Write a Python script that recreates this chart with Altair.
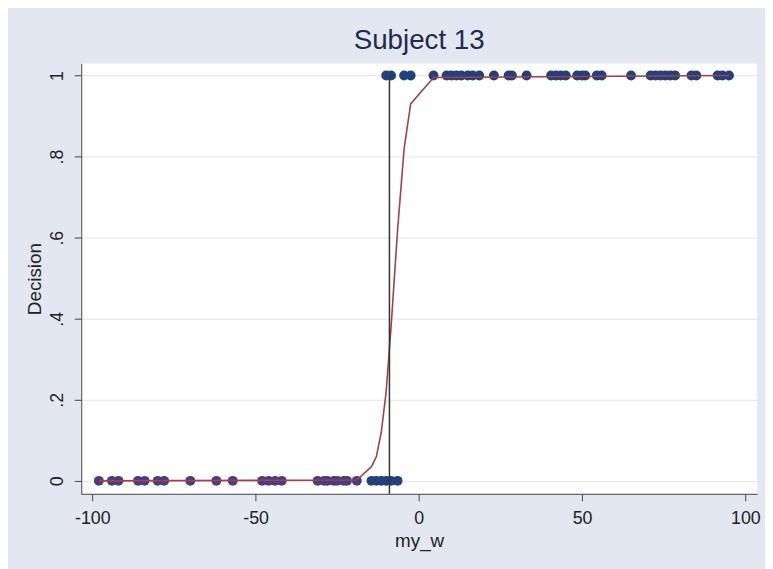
import altair as alt
import pandas as pd

# Observed decisions (my_w values)
zero_x_covered = [-98, -94, -92, -86, -84, -80, -78, -70, -62, -57, -48, -46, -44, -42,
                  -31, -29, -28, -26, -25, -23, -22, -19]
zero_x_open = [-14.5, -13, -11.5, -10, -8.5, -6.5]
one_x = [-10, -8.5, -4.5, -2.5, 4.5, 8.5, 10, 11.5, 13, 15, 16.5, 18.5, 23, 27.5, 28.5, 33,
         40.5, 42, 43.5, 45, 48.5, 50, 51, 54.5, 56, 65, 71, 72.5, 74, 75.5, 77, 78.5,
         83.5, 85, 91.5, 93, 95]

# Fitted probability line (vertices)
fit_x = [-98, -19, -14.5, -13, -11.5, -10, -8.5, -6.5, -4.5, -2.5, 4.5, 95]
fit_p = [0.0, 0.002, 0.035, 0.06, 0.12, 0.22, 0.38, 0.62, 0.82, 0.93, 0.995, 1.0]

vline_x = [-9]

x_ticks = [-100, -50, 0, 50, 100]
y_ticks = [0, 0.2, 0.4, 0.6, 0.8, 1]

pts = pd.DataFrame(
    {"my_w": zero_x_covered + zero_x_open + one_x,
     "Decision": [0] * (len(zero_x_covered) + len(zero_x_open)) + [1] * len(one_x),
     "grp": ["covered"] * len(zero_x_covered) + ["open"] * (len(zero_x_open) + len(one_x))}
)
fit = pd.DataFrame({"my_w": fit_x, "p": fit_p})
vl = pd.DataFrame({"my_w": vline_x, "top": [1.0]})

xscale = alt.Scale(domain=[-103.4, 103.6], nice=False, zero=False)
yscale = alt.Scale(domain=[-0.032, 1.03], nice=False, zero=False)

W, H = 683, 435

xaxis = alt.Axis(values=x_ticks, title="my_w", grid=False, labelFontSize=18,
                 labelExpr="datum.value + ''",
                 titleFontSize=19, labelColor="#222222", titleColor="#222222",
                 titleFontWeight="normal", tickSize=7, labelPadding=9, titlePadding=4,
                 domainColor="#444444", tickColor="#444444", labelFont="Liberation Sans",
                 titleFont="Liberation Sans")
yaxis = alt.Axis(values=y_ticks, title="Decision", grid=True, gridColor="#e4e4e4",
                 labelExpr="datum.value == 0 ? '0' : datum.value == 1 ? '1' : replace(format(datum.value, '.1f'), '0.', '.')",
                 labelAngle=270, labelFontSize=18, titleFontSize=19, labelColor="#222222",
                 titleColor="#222222", titleFontWeight="normal", tickSize=7, labelPadding=8,
                 titlePadding=4, domainColor="#444444", tickColor="#444444",
                 labelFont="Liberation Sans", titleFont="Liberation Sans")

points = alt.Chart(pts).mark_circle(size=100, opacity=1).encode(
    x=alt.X("my_w:Q", scale=xscale, axis=xaxis),
    y=alt.Y("Decision:Q", scale=yscale, axis=yaxis),
    color=alt.Color("grp:N", scale=alt.Scale(domain=["covered", "open"],
                                             range=["#4a3c7e", "#23407a"]), legend=None),
)

line = alt.Chart(fit).mark_line(color="#a0414c", strokeWidth=1.6).encode(
    x=alt.X("my_w:Q", scale=xscale),
    y=alt.Y("p:Q", scale=yscale),
)

rule = alt.Chart(vl).mark_rule(color="#333333", strokeWidth=1.5).encode(
    x=alt.X("my_w:Q", scale=xscale),
    y=alt.Y("top:Q", scale=yscale),
    y2=alt.value(H),
)

chart = alt.layer(points, line, rule).properties(
    width=W, height=H,
    title=alt.TitleParams("Subject 13", fontSize=28, font="Liberation Sans",
                          fontWeight="normal", color="#1e2b4e", offset=9, anchor="middle"),
    background="#e3e7f1",
    padding={"left": 74, "top": 53, "right": 8, "bottom": 73},
    autosize=alt.AutoSizeParams(type="none"),
).configure_view(fill="white", stroke=None)

chart.save("out.html", embed_options={"renderer": "svg", "actions": False})
